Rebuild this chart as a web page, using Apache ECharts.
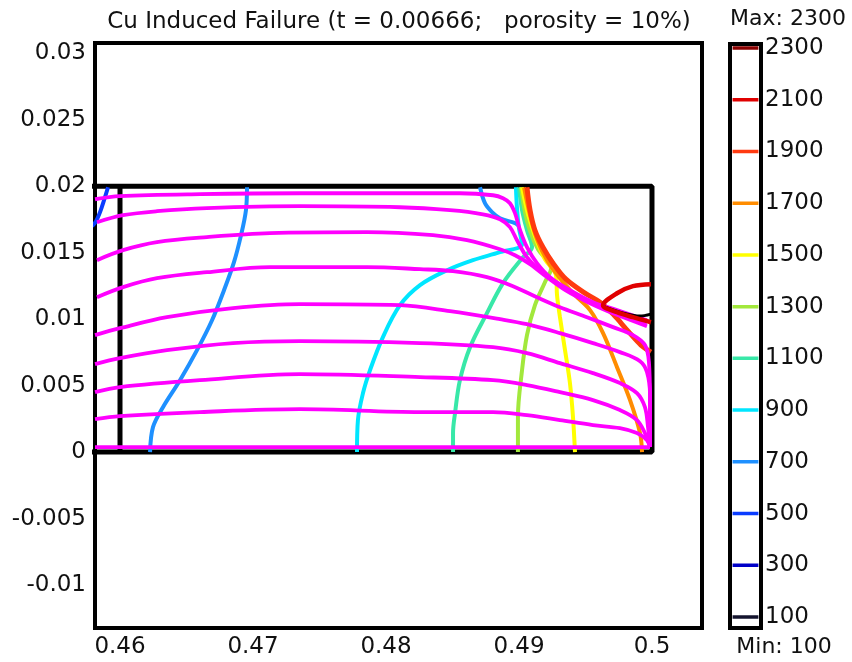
<!DOCTYPE html>
<html>
<head>
<meta charset="utf-8">
<script src="https://cdn.jsdelivr.net/npm/echarts@6/dist/echarts.min.js"></script>
<style>
  html, body { margin: 0; padding: 0; background: #fff; }
  #chart { width: 852px; height: 662px; }
</style>
</head>
<body>
<div id="chart"></div>
<script>
// Axis ticks
const xTicks = [0.46, 0.47, 0.48, 0.49, 0.5];
const yTicks = [-0.01, -0.005, 0, 0.005, 0.01, 0.015, 0.02, 0.025, 0.03];

// Contour levels and their colours (colour bar)
const levels = [100, 300, 500, 700, 900, 1100, 1300, 1500, 1700, 1900, 2100, 2300];
const levelColors = ['#14142e', '#0000c8', '#0a3cff', '#1e90ff', '#00e6ff', '#38e8a8',
                     '#a2e83c', '#ffff00', '#ff8c00', '#ff3a10', '#e00000', '#8b0000'];

// Solder domain outline and inner interface line
const domainOutline = [[0.455, 0.02], [0.5, 0.02], [0.5, 0], [0.455, 0]];
const interfaceLine = [[0.46, 0], [0.46, 0.02]];
const poreEdge = [[0.49632, 0.01098], [0.49759, 0.01053], [0.49910, 0.01023], [0.49992, 0.01038]];

// Isotherms
const iso500 = [[0.45910, 0.01992], [0.45880, 0.01895], [0.45850, 0.01805], [0.45820, 0.01737], [0.45790, 0.01700]];
const iso700a = [[0.46955, 0.01992], [0.46947, 0.01820], [0.46910, 0.01632], [0.46857, 0.01429], [0.46782, 0.01218],
                 [0.46692, 0.00992], [0.46579, 0.00767], [0.46451, 0.00541], [0.46323, 0.00338], [0.46248, 0.00188],
                 [0.46226, 0.0]];
const iso700b = [[0.48707, 0.01992], [0.48744, 0.01872], [0.48797, 0.01805], [0.48857, 0.01759], [0.48970, 0.01722],
                 [0.48992, 0.01707]];
const iso900 = [[0.47782, 0.0], [0.47789, 0.00241], [0.47827, 0.00444], [0.47880, 0.00617], [0.47977, 0.00865],
                [0.48105, 0.01105], [0.48256, 0.01256], [0.48459, 0.01368], [0.48654, 0.01444], [0.48857, 0.01504],
                [0.49023, 0.01564], [0.49000, 0.01684], [0.48985, 0.01835], [0.48977, 0.01992]];
const iso1100 = [[0.48504, 0.0], [0.48504, 0.00143], [0.48519, 0.00293], [0.48556, 0.00541], [0.48632, 0.00789],
                 [0.48759, 0.01045], [0.48880, 0.01271], [0.49030, 0.01466], [0.49098, 0.01541], [0.49060, 0.01669],
                 [0.49023, 0.01820], [0.49000, 0.01992]];
const iso1300 = [[0.48992, 0.0], [0.48992, 0.00263], [0.49023, 0.00617], [0.49060, 0.00880], [0.49120, 0.01105],
                 [0.49195, 0.01278], [0.49241, 0.01383], [0.49143, 0.01526], [0.49083, 0.01662], [0.49045, 0.01805],
                 [0.49015, 0.01992]];
const iso1500 = [[0.49421, 0.0], [0.49406, 0.00263], [0.49383, 0.00519], [0.49346, 0.00767], [0.49308, 0.01015],
                 [0.49286, 0.01180], [0.49278, 0.01331], [0.49195, 0.01451], [0.49120, 0.01624], [0.49068, 0.01789],
                 [0.49023, 0.01992]];
const iso1700 = [[0.49925, 0.0], [0.49910, 0.00143], [0.49835, 0.00391], [0.49737, 0.00639], [0.49632, 0.00895],
                 [0.49534, 0.01068], [0.49421, 0.01180], [0.49308, 0.01308], [0.49211, 0.01444], [0.49135, 0.01602],
                 [0.49083, 0.01782], [0.49038, 0.01992]];
const iso1900 = [[0.49060, 0.01992], [0.49083, 0.01820], [0.49120, 0.01669], [0.49180, 0.01541], [0.49256, 0.01421],
                 [0.49353, 0.01301], [0.49496, 0.01196], [0.49609, 0.01128], [0.49707, 0.01038], [0.49820, 0.00910],
                 [0.49917, 0.00805], [0.49992, 0.00752]];
const iso2100 = [[0.49992, 0.01263], [0.49857, 0.01248], [0.49737, 0.01195], [0.49632, 0.01105], [0.49737, 0.01053],
                 [0.49857, 0.01015], [0.49992, 0.00977]];

// Flow lines (magenta)
const flow1 = [[0.45812, 0.01902], [0.46, 0.01925], [0.46602, 0.01940], [0.47353, 0.01947], [0.48353, 0.01947],
               [0.48556, 0.01947], [0.48805, 0.01932], [0.48880, 0.01910], [0.48932, 0.01872], [0.48970, 0.01797],
               [0.49008, 0.01669], [0.49060, 0.01541], [0.49135, 0.01421], [0.49233, 0.01316], [0.49383, 0.01218],
               [0.49556, 0.01128], [0.49737, 0.01068], [0.49962, 0.00992]];
const flow2 = [[0.45827, 0.01729], [0.46023, 0.01782], [0.46278, 0.01812], [0.46654, 0.01835], [0.47353, 0.01850],
               [0.48105, 0.01842], [0.48481, 0.01820], [0.48729, 0.01789], [0.48857, 0.01752], [0.48932, 0.01692],
               [0.48985, 0.01594], [0.49060, 0.01466], [0.49180, 0.01346], [0.49331, 0.01241], [0.49511, 0.01143],
               [0.49707, 0.01053], [0.49962, 0.00970]];
const flow3 = [[0.45827, 0.01444], [0.46023, 0.01519], [0.46278, 0.01579], [0.46654, 0.01617], [0.47128, 0.01647],
               [0.47857, 0.01654], [0.48353, 0.01632], [0.48609, 0.01594], [0.48857, 0.01526], [0.48970, 0.01481],
               [0.49083, 0.01414], [0.49211, 0.01316], [0.49361, 0.01211], [0.49534, 0.01120], [0.49722, 0.01038],
               [0.49962, 0.00947]];
const flow4 = [[0.45827, 0.01165], [0.46023, 0.01241], [0.46278, 0.01308], [0.46654, 0.01353], [0.47128, 0.01391],
               [0.47857, 0.01391], [0.48256, 0.01376], [0.48504, 0.01361], [0.48759, 0.01316], [0.48955, 0.01248],
               [0.49135, 0.01165], [0.49308, 0.01090], [0.49511, 0.01015], [0.49707, 0.00940], [0.49857, 0.00880],
               [0.49947, 0.00805], [0.49977, 0.00677], [0.49985, 0.00391], [0.49985, 0.00038]];
const flow5 = [[0.45812, 0.00880], [0.46, 0.00932], [0.46353, 0.01015], [0.46850, 0.01083], [0.47353, 0.01113],
               [0.48105, 0.01105], [0.48481, 0.01060], [0.48857, 0.01000], [0.49060, 0.00962], [0.49308, 0.00895],
               [0.49556, 0.00820], [0.49759, 0.00752], [0.49910, 0.00684], [0.49962, 0.00602], [0.49985, 0.00429],
               [0.49985, 0.00038]];
const flow6 = [[0.45812, 0.00662], [0.46, 0.00707], [0.46353, 0.00767], [0.46850, 0.00820], [0.47353, 0.00835],
               [0.48256, 0.00820], [0.48805, 0.00789], [0.49060, 0.00744], [0.49308, 0.00669], [0.49556, 0.00594],
               [0.49759, 0.00519], [0.49887, 0.00444], [0.49947, 0.00338], [0.49970, 0.00188], [0.49985, 0.00038]];
const flow7 = [[0.45812, 0.00451], [0.46, 0.00489], [0.46602, 0.00541], [0.47353, 0.00586], [0.48256, 0.00564],
               [0.48805, 0.00541], [0.49060, 0.00504], [0.49308, 0.00451], [0.49556, 0.00391], [0.49759, 0.00316],
               [0.49887, 0.00241], [0.49947, 0.00143], [0.49985, 0.00038]];
const flow8 = [[0.45812, 0.00248], [0.46, 0.00271], [0.46602, 0.00301], [0.47353, 0.00323], [0.48256, 0.00301],
               [0.48805, 0.00301], [0.49060, 0.00278], [0.49308, 0.00241], [0.49556, 0.00203], [0.49759, 0.00180],
               [0.49887, 0.00143], [0.49962, 0.00090], [0.49985, 0.00038]];
const flow9 = [[0.45812, 0.00038], [0.49985, 0.00038]];

const isotherms = [
  { level: 500, pts: iso500 }, { level: 700, pts: iso700a }, { level: 700, pts: iso700b },
  { level: 900, pts: iso900 }, { level: 1100, pts: iso1100 }, { level: 1300, pts: iso1300 },
  { level: 1500, pts: iso1500 }, { level: 1700, pts: iso1700 }
];
const flows = [flow1, flow2, flow3, flow4, flow5, flow6, flow7, flow8, flow9];

const FONT = 'DejaVu Sans';
const colorOf = lv => levelColors[levels.indexOf(lv)];

const series = [];
// domain outline
series.push({
  type: 'line', data: domainOutline, showSymbol: false, silent: true,
  lineStyle: { color: '#000', width: 5 }, z: 2
});
series.push({
  type: 'line', data: interfaceLine, showSymbol: false, silent: true,
  lineStyle: { color: '#000', width: 5 }, z: 2
});
isotherms.forEach(iso => {
  series.push({
    type: 'line', data: iso.pts, showSymbol: false, silent: true, smooth: 0.35,
    lineStyle: { color: colorOf(iso.level), width: 4 }, z: 4
  });
});
// hottest isotherm along the void rim (beneath the flow lines)
series.push({
  type: 'line', data: iso1900, showSymbol: false, silent: true, smooth: 0.35,
  lineStyle: { color: colorOf(1900), width: 5 }, z: 4
});
flows.forEach(f => {
  series.push({
    type: 'line', data: f, showSymbol: false, silent: true, smooth: 0.35,
    lineStyle: { color: '#ff00ff', width: 3.8 }, z: 5
  });
});
// void edge and the 2100 lobe next to it
series.push({
  type: 'line', data: poreEdge, showSymbol: false, silent: true, smooth: 0.3,
  lineStyle: { color: '#000', width: 3 }, z: 6
});
series.push({
  type: 'line', data: iso2100, showSymbol: false, silent: true, smooth: 0.35,
  lineStyle: { color: colorOf(2100), width: 4.5 }, z: 6
});
// colour bar level marks
levels.forEach((lv, i) => {
  series.push({
    type: 'line', xAxisIndex: 1, yAxisIndex: 1, data: [[0, lv], [1, lv]],
    showSymbol: false, silent: true,
    lineStyle: { color: levelColors[i], width: 3.5 }, z: 3
  });
});

const chart = echarts.init(document.getElementById('chart'), null, { renderer: 'canvas' });
chart.setOption({
  animation: false,
  backgroundColor: '#fff',
  grid: [
    { left: 95, right: 150, top: 43, bottom: 34, show: true, borderColor: '#000', borderWidth: 4, backgroundColor: '#fff' },
    { left: 730, width: 31, top: 44, bottom: 34, show: true, borderColor: '#000', borderWidth: 4, backgroundColor: '#fff' }
  ],
  xAxis: [
    {
      type: 'value', gridIndex: 0, min: 0.45812, max: 0.50376,
      axisLine: { show: false }, axisTick: { show: false }, splitLine: { show: false },
      axisLabel: { customValues: xTicks, formatter: v => String(v), fontFamily: FONT, fontSize: 23, color: '#111', margin: 8 }
    },
    { type: 'value', gridIndex: 1, min: -0.1, max: 1.1, show: false }
  ],
  yAxis: [
    {
      type: 'value', gridIndex: 0, min: -0.013233, max: 0.030774,
      axisLine: { show: false }, axisTick: { show: false }, splitLine: { show: false },
      axisLabel: { customValues: yTicks, formatter: v => String(v), fontFamily: FONT, fontSize: 23, color: '#111', margin: 9 }
    },
    {
      type: 'value', gridIndex: 1, position: 'right', min: 57.5, max: 2315.5,
      axisLine: { show: false }, axisTick: { show: false }, splitLine: { show: false },
      axisLabel: { customValues: levels, formatter: v => String(v), fontFamily: FONT, fontSize: 23, color: '#111', margin: 4 }
    }
  ],
  graphic: [
    { type: 'text', x: 399, y: 22, style: { text: 'Cu Induced Failure (t = 0.00666;   porosity = 10%)', font: '23px "DejaVu Sans"', fill: '#111', align: 'center', verticalAlign: 'middle', textAlign: 'center', textVerticalAlign: 'middle' } },
    { type: 'text', x: 788, y: 19, style: { text: 'Max: 2300', font: '22px "DejaVu Sans"', fill: '#111', align: 'center', verticalAlign: 'middle', textAlign: 'center', textVerticalAlign: 'middle' } },
    { type: 'text', x: 784, y: 647, style: { text: 'Min: 100', font: '22px "DejaVu Sans"', fill: '#111', align: 'center', verticalAlign: 'middle', textAlign: 'center', textVerticalAlign: 'middle' } }
  ],
  series: series
});
</script>
</body>
</html>
